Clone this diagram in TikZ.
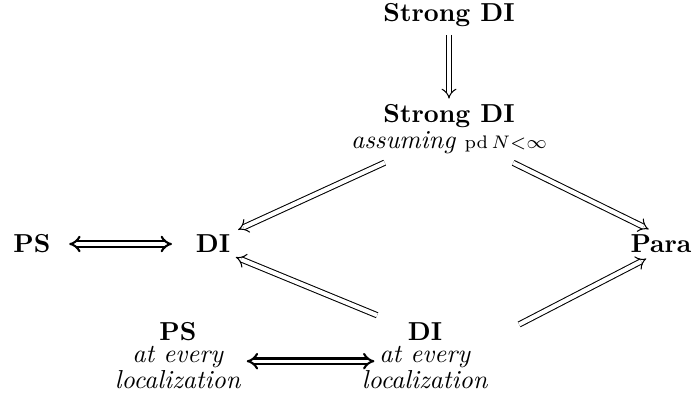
\documentclass[tikz,border=0pt]{standalone}
\usetikzlibrary{arrows.meta}

\tikzset{
	lbl/.style = {font = \fontsize{10pt}{8.5pt}\selectfont, align = center, inner sep = 2pt},
	impl/.style = {double, double distance = 1.6pt, line width = 0.4pt, -{Implies}},
	equiv/.style = {double, double distance = 1.3pt, line width = 0.8pt, {Implies}-{Implies}}
}

\begin{document}
\begin{tikzpicture}[x = 0.385pt, y = -0.385pt]

	\useasboundingbox (0, 0) rectangle (696, 405);

	% Top row
	
	\node [lbl] (strongtop) at (449, 15) {\textbf{Strong DI}};
	
	\node [lbl, font = \fontsize{10pt}{10pt}\selectfont] (strong) at (449, 129) {\textbf{Strong DI}\\ \textit{assuming} $\scriptstyle\mathrm{pd}\,N<\infty$};
	
	% Middle row
	
	\node [lbl] (ps) at (32, 244) {\textbf{PS}};
	\node [lbl] (di) at (213, 244) {\textbf{DI}};
	\node [lbl] (para) at (661, 244) {\textbf{Para}};
	
	% Bottom row
	
	\node [lbl] (psloc) at (178, 356) {\textbf{PS}\\ \textit{at every}\\ \textit{localization}};
	\node [lbl] (diloc) at (425, 356) {\textbf{DI}\\ \textit{at every}\\ \textit{localization}};
	
	% Implications
	
	\draw [impl, shorten <= 1pt] (strongtop) -- (strong);
	\draw [impl, shorten <= 3pt, shorten >= 1pt] (strong.208) -- (di.30);
	\draw [impl, shorten <= 3pt] (strong.332) -- (para.130);
	\draw [impl, shorten <= 2pt] (diloc.138) -- (di.330);
	\draw [impl, shorten <= 11pt] (diloc.15) -- (para.225);
	
	\draw [equiv, shorten <= 5pt, shorten >= 7pt] (ps) -- (di);
	\draw [equiv, shorten <= 0pt, shorten >= -7pt] ([yshift = -2pt]psloc.east) -- ([yshift = -2pt]diloc.west);

\end{tikzpicture}
\end{document}
